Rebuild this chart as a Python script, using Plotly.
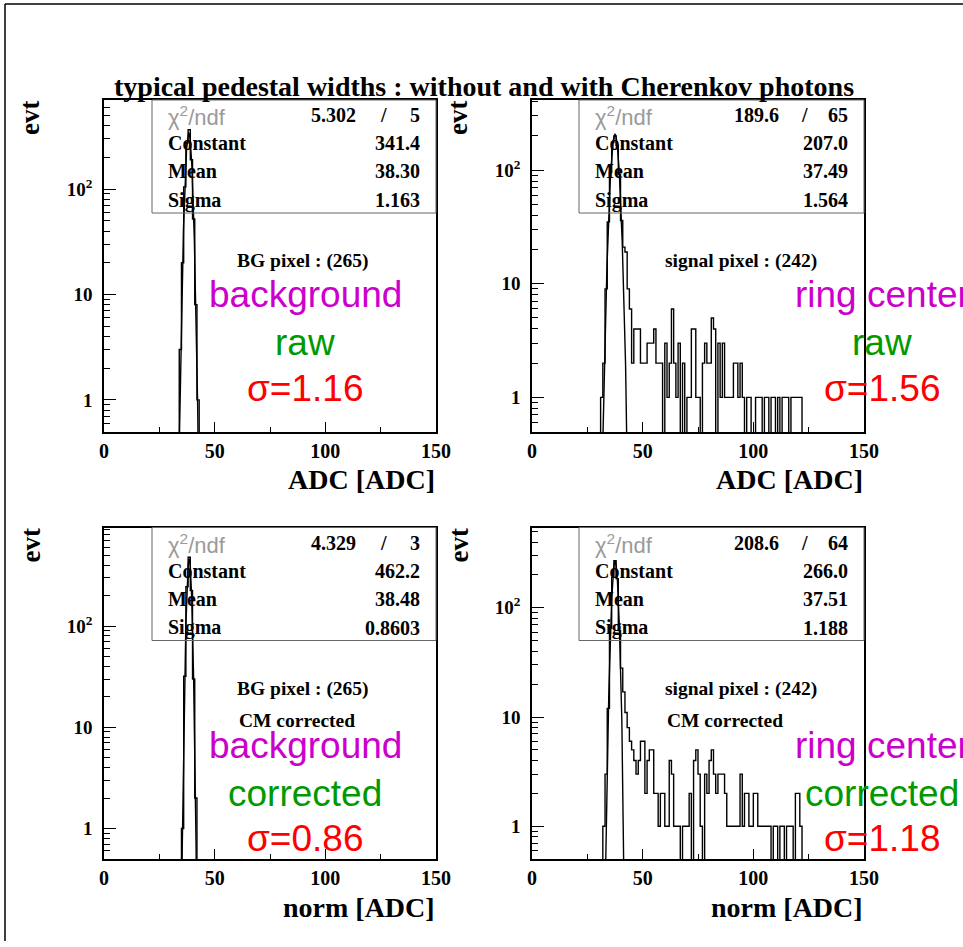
import numpy as np
import plotly.graph_objects as go

W, H = 963, 947

# ---------------- data ----------------
TITLE = "typical pedestal widths : without and with Cherenkov photons"
X_TICKS = [0, 50, 100, 150]
X_MINOR = [25, 75, 125]
Y_TICKS = [1, 10, 100]
Y_TICK_TEXT = ["1", "10", "10<sup>2</sup>"]
Y_MINOR = [0.5, 0.6, 0.7, 0.8, 0.9, 2, 3, 4, 5, 6, 7, 8, 9,
           20, 30, 40, 50, 60, 70, 80, 90, 200, 300, 400, 500, 600, 700, 800, 900]

# histograms: 1 ADC wide bins, first bin lower edge + counts
bg_raw_start = 34
bg_raw_counts = [3, 20, 105, 275, 365, 190, 52, 8, 1]

sig_raw_start = 31
sig_raw_counts = [1, 2, 9, 35, 95, 175, 200, 165, 92, 36,      # 31-40
                  21, 19, 9, 6, 2, 4, 4, 4, 2, 2,              # 41-50
                  2, 3, 3, 3, 4, 2, 2, 2, 0, 3,                # 51-60
                  1, 2, 6, 2, 1, 3, 0, 2, 0, 1,                # 61-70
                  1, 4, 4, 1, 1, 0, 2, 3, 2, 2,                # 71-80
                  5, 4, 0, 3, 1, 3, 1, 1, 1, 1,                # 81-90
                  2, 2, 1, 2, 1, 0, 1, 1, 0, 0,                # 91-100
                  1, 1, 1, 0, 1, 1, 0, 1, 1, 0,                # 101-110
                  1, 0, 1, 1, 1, 0, 1, 1, 1, 1,                # 111-120
                  1]                                           # 121

bg_cor_start = 35
bg_cor_counts = [1, 32, 245, 480, 225, 30, 2]

sig_cor_start = 32
sig_cor_counts = [1, 3, 12, 65, 190, 270, 185, 62, 28,         # 32-40
                  17, 11, 8, 6, 5, 4, 3, 4, 6, 6,              # 41-50
                  2, 4, 5, 5, 2, 2, 1, 2, 2, 1,                # 51-60
                  1, 4, 3, 1, 1, 1, 0, 1, 1, 1,                # 61-70
                  2, 0, 4, 5, 3, 1, 0, 3, 2, 4,                # 71-80
                  5, 3, 2, 3, 3, 3, 2, 1, 1, 1,                # 81-90
                  1, 1, 1, 3, 1, 2, 2, 1, 1, 2,                # 91-100
                  2, 1, 1, 1, 1, 1, 1, 0, 1, 1,                # 101-110
                  0, 1, 1, 0, 1, 1, 1, 0, 2, 2,                # 111-120
                  1]                                           # 121

fit_chi2 = ["5.302", "189.6", "4.329", "208.6"]
fit_ndf = ["5", "65", "3", "64"]
fit_constant = ["341.4", "207.0", "462.2", "266.0"]
fit_mean = ["38.30", "37.49", "38.48", "37.51"]
fit_sigma = ["1.163", "1.564", "0.8603", "1.188"]

pixel_labels = ["BG pixel : (265)", "signal pixel : (242)", "BG pixel : (265)", "signal pixel : (242)"]
cm_labels = ["", "", "CM corrected", "CM corrected"]
region_labels = ["background", "ring center", "background", "ring center"]
mode_labels = ["raw", "raw", "corrected", "corrected"]
sigma_labels = ["σ=1.16", "σ=1.56", "σ=0.86", "σ=1.18"]
x_titles = ["ADC [ADC]", "ADC [ADC]", "norm [ADC]", "norm [ADC]"]
y_title = "evt"

hist_starts = [bg_raw_start, sig_raw_start, bg_cor_start, sig_cor_start]
hist_counts = [bg_raw_counts, sig_raw_counts, bg_cor_counts, sig_cor_counts]

# ---------------- layout geometry (pixels) ----------------
panels = [(104, 436, 100, 432), (532, 864, 100, 432),
          (104, 436, 527.5, 859), (532, 864, 527.5, 859)]
y_ranges = [(-0.305, 2.845), (-0.305, 2.617), (-0.302, 2.975), (-0.300, 2.735)]
box_x0 = [152, 579, 152, 579]
label_cx = [305, 882, 305, 882]
pix_cx = [303, 741, 303, 741]
cm_x = [237, 665, 237, 665]

SERIF = "Liberation Serif"
SANS = "Liberation Sans"
MAGENTA = "#cc00cc"
GREEN = "#009a00"
RED = "#ff0000"


def px(x):
    return x / W


def py(y):
    return 1 - y / H


fig = go.Figure()
annotations = []
shapes = []

TINY = 1e-3
for i in range(4):
    start = hist_starts[i]
    counts = hist_counts[i]
    n = len(counts)
    edges = list(range(start, start + n + 1))
    ys = [c if c > 0 else TINY for c in counts]
    xs = [edges[0]] + edges[:n] + [edges[n]]
    yv = [TINY] + ys + [TINY]
    ax = "" if i == 0 else str(i + 1)
    fig.add_trace(go.Scatter(x=xs, y=yv, mode="lines", line=dict(color="black", width=1.4, shape="hv"),
                             xaxis="x" + ax, yaxis="y" + ax, showlegend=False, hoverinfo="skip"))
    # gaussian fit curve from the fitted parameters shown in the stat box
    C, m, s = float(fit_constant[i]), float(fit_mean[i]), float(fit_sigma[i])
    xf = np.linspace(m - 6 * s, m + 6 * s, 300)
    yf = C * np.exp(-0.5 * ((xf - m) / s) ** 2)
    fig.add_trace(go.Scatter(x=xf, y=yf, mode="lines", line=dict(color="black", width=1.4),
                             xaxis="x" + ax, yaxis="y" + ax, showlegend=False, hoverinfo="skip"))

layout_axes = {}
for i in range(4):
    x0, x1, y0, y1 = panels[i]
    ax = "" if i == 0 else str(i + 1)
    layout_axes["xaxis" + ax] = dict(
        domain=[px(x0), px(x1)], range=[0, 150], anchor="y" + ax, automargin=False,
        tickmode="array", tickvals=X_TICKS, ticks="inside", ticklen=10, tickwidth=1.2,
        tickcolor="black", showline=True, linecolor="black", linewidth=1.5, mirror=True,
        showgrid=False, zeroline=False,
        tickfont=dict(family=SERIF, size=20, color="black", weight="bold"),
        minor=dict(tickmode="array", tickvals=X_MINOR, ticks="inside", ticklen=5,
                   tickcolor="black", tickwidth=1.2, showgrid=False),
    )
    layout_axes["yaxis" + ax] = dict(
        domain=[py(y1), py(y0)], type="log", range=list(y_ranges[i]), anchor="x" + ax, automargin=False,
        tickmode="array", tickvals=Y_TICKS, ticktext=Y_TICK_TEXT, ticks="inside", ticklen=12,
        tickwidth=1.2, tickcolor="black", showline=True, linecolor="black", linewidth=1.5,
        mirror=True, showgrid=False, zeroline=False, ticklabelstandoff=6,
        tickfont=dict(family=SERIF, size=19, color="black", weight="bold"),
        minor=dict(tickmode="array", tickvals=Y_MINOR, ticks="inside", ticklen=6,
                   tickcolor="black", tickwidth=1.2, showgrid=False),
    )

    # stat box
    shapes.append(dict(type="rect", xref="paper", yref="paper",
                       x0=px(box_x0[i]), x1=px(x1), y0=py(y0 + 113), y1=py(y0),
                       line=dict(color="#666666", width=1)))
    row_off = [15, 43, 71.5, 100]
    lx = box_x0[i] + 14
    rx = x1 - 14
    annotations.append(dict(x=px(lx), y=py(y0 + row_off[0] + 1), xref="paper", yref="paper",
                            text="χ<sup>2</sup>/ndf", showarrow=False, xanchor="left", yanchor="middle",
                            font=dict(family=SANS, size=22, color="#9a9a9a")))
    wide = len(fit_ndf[i]) > 1
    annotations.append(dict(x=px(x1 - (83 if wide else 78)), y=py(y0 + row_off[0]), xref="paper", yref="paper",
                            text=fit_chi2[i], showarrow=False, xanchor="right", yanchor="middle",
                            font=dict(family=SERIF, size=20, color="black", weight="bold")))
    annotations.append(dict(x=px(x1 - (60 if wide else 53)), y=py(y0 + row_off[0]), xref="paper", yref="paper",
                            text="/", showarrow=False, xanchor="center", yanchor="middle",
                            font=dict(family=SERIF, size=20, color="black", weight="bold")))
    annotations.append(dict(x=px(rx), y=py(y0 + row_off[0]), xref="paper", yref="paper",
                            text=fit_ndf[i], showarrow=False, xanchor="right", yanchor="middle",
                            font=dict(family=SERIF, size=20, color="black", weight="bold")))
    for name, val, off in [("Constant", fit_constant[i], row_off[1]),
                           ("Mean", fit_mean[i], row_off[2]),
                           ("Sigma", fit_sigma[i], row_off[3])]:
        annotations.append(dict(x=px(lx), y=py(y0 + off), xref="paper", yref="paper", text=name,
                                showarrow=False, xanchor="left", yanchor="middle",
                                font=dict(family=SERIF, size=20, color="black", weight="bold")))
        annotations.append(dict(x=px(rx), y=py(y0 + off), xref="paper", yref="paper", text=val,
                                showarrow=False, xanchor="right", yanchor="middle",
                                font=dict(family=SERIF, size=20, color="black", weight="bold")))

    # labels inside panel
    annotations.append(dict(x=px(pix_cx[i]), y=py(y0 + 161), xref="paper", yref="paper",
                            text=pixel_labels[i], showarrow=False, xanchor="center", yanchor="middle",
                            font=dict(family=SERIF, size=19.5, color="black", weight="bold")))
    if cm_labels[i]:
        annotations.append(dict(x=px(cm_x[i]), y=py(y0 + 192.5), xref="paper", yref="paper",
                                text=cm_labels[i], showarrow=False, xanchor="left", yanchor="middle",
                                font=dict(family=SERIF, size=19.5, color="black", weight="bold")))
        ys_lbl = [217.5, 265.5, 310.5]
    else:
        ys_lbl = [194, 243, 288]
    for txt, col, yy in zip([region_labels[i], mode_labels[i], sigma_labels[i]],
                            [MAGENTA, GREEN, RED], ys_lbl):
        annotations.append(dict(x=px(label_cx[i]), y=py(y0 + yy), xref="paper", yref="paper",
                                text=txt, showarrow=False, xanchor="center", yanchor="middle",
                                font=dict(family=SANS, size=37, color=col)))

    # axis titles
    annotations.append(dict(x=px(x1 + 1), y=py(y1 + 48), xref="paper", yref="paper",
                            text=x_titles[i], showarrow=False, xanchor="right", yanchor="middle",
                            font=dict(family=SERIF, size=28, color="black", weight="bold")))
    annotations.append(dict(x=px(x0 - 74), y=py(y0 + 18), xref="paper", yref="paper",
                            text=y_title, showarrow=False, xanchor="center", yanchor="middle", textangle=-90,
                            font=dict(family=SERIF, size=27, color="black", weight="bold")))

annotations.append(dict(x=px(484), y=py(87), xref="paper", yref="paper", text=TITLE,
                        showarrow=False, xanchor="center", yanchor="middle",
                        font=dict(family=SERIF, size=28, color="black", weight="bold")))

# page frame lines (top and left)
shapes.append(dict(type="line", xref="paper", yref="paper", x0=px(5), x1=1.0, y0=py(4), y1=py(4),
                   line=dict(color="black", width=1.5)))
shapes.append(dict(type="line", xref="paper", yref="paper", x0=px(5), x1=px(5), y0=py(4), y1=py(941),
                   line=dict(color="black", width=1.5)))

fig.update_layout(width=W, height=H, margin=dict(l=0, r=0, t=0, b=0, pad=0), autosize=False,
                  paper_bgcolor="white", plot_bgcolor="white",
                  annotations=annotations, shapes=shapes, showlegend=False, **layout_axes)

fig.write_html("out.html", config={"displayModeBar": False},
               post_script="document.body.style.margin='0';document.body.style.overflow='hidden';")
